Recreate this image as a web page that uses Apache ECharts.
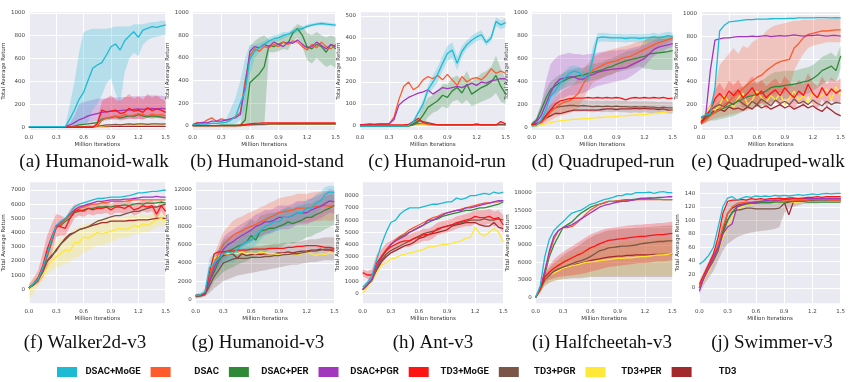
<!DOCTYPE html>
<html><head><meta charset="utf-8">
<script src="https://cdn.jsdelivr.net/npm/echarts@6/dist/echarts.min.js"></script>
<style>html,body{margin:0;padding:0;background:#fff}#c{width:865px;height:382px}</style>
</head><body><div id="c"></div>
<script>
// ---------- shared ----------
const iterations = [0,0.05,0.1,0.15,0.2,0.25,0.3,0.35,0.4,0.45,0.5,0.55,0.6,0.65,0.7,0.75,0.8,0.85,0.9,0.95,1.0,1.05,1.1,1.15,1.2,1.25,1.3,1.35,1.4,1.45,1.5];
const xTicks = [0,0.3,0.6,0.9,1.2,1.5];
const methods = ['DSAC+MoGE','DSAC','DSAC+PER','DSAC+PGR','TD3+MoGE','TD3+PGR','TD3+PER','TD3'];
const panelTitles = ['(a) Humanoid-walk','(b) Humanoid-stand','(c) Humanoid-run','(d) Quadruped-run','(e) Quadruped-walk','(f) Walker2d-v3','(g) Humanoid-v3','(h) Ant-v3','(i) Halfcheetah-v3','(j) Swimmer-v3'];
const yTicksWalk = [0,200,400,600,800,1000];
const yTicksStand = [0,200,400,600,800,1000];
const yTicksRun = [0,100,200,300,400,500];
const yTicksQrun = [0,200,400,600,800,1000];
const yTicksQwalk = [0,200,400,600,800,1000];
const yTicksWalker = [0,1000,2000,3000,4000,5000,6000,7000];
const yTicksHum = [0,2000,4000,6000,8000,10000,12000];
const yTicksAnt = [0,1000,2000,3000,4000,5000,6000,7000,8000];
const yTicksCheetah = [0,3000,6000,9000,12000,15000,18000];
const yTicksSwim = [0,20,40,60,80,100,120,140];

// ---------- (a) Humanoid-walk ----------
const walkMoGE = [5,5,5,5,5,5,5,5,5,73,151,244,305,413,515,544,564,631,703,727,674,756,797,834,785,849,863,878,872,884,895];
const walkMoGELo = [0,0,0,0,0,0,0,0,0,0,0,0,0,50,150,200,280,380,430,300,200,480,600,650,620,720,760,780,790,800,810];
const walkMoGEHi = [10,10,10,10,10,10,10,10,10,200,400,650,830,850,860,860,860,860,870,880,880,880,880,900,900,900,910,920,920,930,930];
const walkDSAC = [0,0,0,0,0,0,0,0,0,0,0,0,0,0,0,10,60,80,90,100,95,110,100,105,120,110,100,115,105,110,100];
const walkPER = [0,0,0,0,0,0,0,0,0,0,10,20,25,30,35,40,70,80,85,95,80,90,100,95,110,100,90,100,95,90,80];
const walkPGR = [5,5,5,5,5,5,5,5,5,20,40,65,80,100,110,120,130,135,140,140,145,150,150,155,160,155,160,165,160,165,160];
const walkPGRLo = [5,5,5,5,5,5,5,5,5,5,0,20,30,40,50,55,60,60,65,65,70,70,70,75,75,75,80,80,80,80,80];
const walkPGRHi = [5,5,5,5,5,5,5,5,5,40,100,200,220,230,240,250,250,255,260,260,260,265,265,270,270,270,275,280,275,275,270];
const walkTD3MoGE = [0,0,0,0,0,0,0,0,0,0,0,0,0,0,0,30,150,135,140,150,120,130,165,140,150,130,170,145,160,150,130];
const walkTD3MoGELo = [0,0,0,0,0,0,0,0,0,0,0,0,0,0,0,0,60,70,70,75,60,65,80,70,75,65,85,75,80,75,65];
const walkTD3MoGEHi = [0,0,0,0,0,0,0,0,0,0,0,0,0,0,0,60,230,250,280,240,230,260,290,250,270,240,290,260,280,250,230];
const walkTD3PGR = [0,0,0,0,0,0,0,0,0,0,2,5,5,8,8,10,15,20,20,25,20,25,30,25,30,30,25,30,30,28,30];
const walkTD3PER = [0,0,0,0,0,0,0,0,0,0,0,0,0,0,0,2,10,15,15,20,20,22,25,25,25,28,28,30,30,30,30];
const walkTD3 = [5,5,5,5,5,5,5,5,5,5,5,5,5,5,5,5,5,5,8,8,8,8,8,8,8,8,8,8,8,8,8];

// ---------- (b) Humanoid-stand ----------
const standMoGE = [10,12,15,15,20,20,25,30,50,80,200,310,590,660,690,720,750,770,780,800,810,830,850,860,880,890,900,905,900,895,890];
const standMoGELo = [5,5,8,8,10,10,12,15,10,20,50,150,450,600,650,690,720,740,750,770,790,810,830,845,865,875,885,890,885,880,875];
const standMoGEHi = [15,20,22,22,30,30,40,60,150,250,400,600,720,720,730,750,780,800,810,830,830,850,870,875,895,905,915,920,915,910,905];
const standDSAC = [10,30,20,50,70,40,60,50,60,80,120,400,620,680,660,700,690,720,700,740,720,750,740,700,670,720,690,740,700,680,720];
const standPER = [0,0,0,0,0,0,5,5,5,5,5,50,380,420,460,520,710,700,720,740,730,820,860,800,700,680,720,700,650,720,680];
const standPERLo = [0,0,0,0,0,0,0,0,0,0,0,0,0,0,0,0,650,650,660,680,670,750,780,700,580,550,600,560,520,540,510];
const standPERHi = [0,0,0,0,0,0,10,10,10,10,10,300,700,750,780,800,760,760,780,800,800,860,900,880,820,800,830,800,780,800,780];
const standPGR = [10,20,30,25,40,40,40,50,60,70,100,350,660,700,690,720,700,740,720,700,740,730,760,720,690,700,740,710,680,720,700];
const standTD3MoGE = [0,0,0,0,0,0,0,0,0,0,5,10,15,20,22,25,25,25,25,25,25,25,25,25,25,25,25,25,25,25,25];
const standTD3PGR = [0,0,0,0,0,0,0,0,0,0,2,5,8,10,12,12,15,15,15,15,15,15,15,15,15,15,15,15,15,15,15];
const standTD3PER = [0,0,0,0,0,0,0,0,0,0,0,2,5,5,8,8,10,10,10,10,10,10,12,12,12,12,12,12,12,12,12];
const standTD3 = [0,0,0,0,0,0,0,0,0,0,2,5,8,10,10,10,12,12,12,15,15,15,15,15,15,15,15,15,15,15,15];

// ---------- (c) Humanoid-run ----------
const runMoGE = [0,0,0,0,0,0,0,0,0,0,2,20,60,100,165,200,235,285,330,345,285,340,370,390,405,415,380,400,475,460,470];
const runMoGELo = [0,0,0,0,0,0,0,0,0,0,0,10,45,80,145,170,200,250,295,310,255,315,350,370,385,395,365,385,455,440,450];
const runMoGEHi = [0,0,0,0,0,0,0,0,0,0,5,30,75,120,185,230,270,320,365,380,315,365,390,410,425,435,395,415,495,480,490];
const runDSAC = [5,5,8,8,10,10,10,40,120,180,200,165,180,210,225,215,230,210,235,210,185,225,200,215,220,210,230,260,240,250,240];
const runPER = [0,0,0,0,0,0,0,0,0,0,0,5,20,50,85,100,115,140,130,160,175,150,190,145,160,175,185,200,230,180,145];
const runPERLo = [0,0,0,0,0,0,0,0,0,0,0,0,0,10,40,60,70,90,80,110,120,100,120,90,100,110,120,130,150,110,100];
const runPERHi = [0,0,0,0,0,0,0,0,0,0,0,10,40,90,130,140,160,190,190,220,230,210,250,200,220,240,250,270,320,260,210];
const runPGR = [5,8,10,8,10,10,10,30,95,115,130,140,150,155,165,145,160,175,170,175,180,175,185,195,185,200,195,205,210,215,215];
const runTD3MoGE = [5,5,5,5,5,5,5,5,5,5,8,20,35,15,10,8,5,5,5,5,5,5,5,5,10,5,5,5,5,20,10];
const runTD3PGR = [0,0,0,0,0,0,0,0,0,0,5,10,25,20,15,10,5,5,5,5,5,5,5,5,5,5,5,5,5,8,5];
const runTD3PER = [0,0,0,0,0,0,0,0,0,0,2,3,5,5,5,5,5,5,5,5,5,5,5,5,5,5,5,5,5,5,5];
const runTD3 = [2,2,2,2,2,2,2,2,2,2,5,8,10,8,6,5,5,5,5,5,5,5,5,5,5,5,5,5,5,5,5];

// ---------- (d) Quadruped-run ----------
const qrunMoGE = [10,15,60,150,270,320,380,430,470,490,480,440,430,600,780,790,785,780,780,780,775,780,780,775,780,780,790,780,790,800,790];
const qrunMoGELo = [0,5,30,100,200,260,320,370,410,440,430,400,390,500,740,750,750,745,745,745,740,745,745,740,745,745,755,745,755,765,755];
const qrunMoGEHi = [20,30,100,200,340,380,440,490,530,540,530,490,480,700,820,825,820,815,815,815,810,815,815,810,815,815,825,815,825,835,825];
const qrunDSAC = [20,30,40,80,130,170,200,220,230,260,300,380,440,500,520,540,560,570,580,600,610,620,640,660,680,700,720,740,750,765,780];
const qrunDSACLo = [10,20,20,40,60,80,100,110,120,140,170,250,320,390,410,430,450,460,480,500,510,520,540,570,600,640,670,700,720,740,760];
const qrunDSACHi = [30,40,60,120,200,260,300,330,350,380,430,510,560,610,630,650,670,680,690,700,710,720,740,750,760,770,780,790,790,800,810];
const qrunPER = [30,60,150,250,330,360,390,410,430,440,450,455,470,480,490,500,520,530,550,565,580,590,600,610,620,640,645,650,655,660,670];
const qrunPERLo = [20,40,100,180,260,290,320,340,360,370,380,390,400,410,420,430,450,460,480,490,500,510,520,530,510,510,500,500,500,500,500];
const qrunPERHi = [40,80,200,320,400,430,460,480,500,510,520,520,540,550,560,570,590,600,620,640,660,670,680,690,760,790,800,800,800,800,800];
const qrunPGR = [20,50,100,200,300,380,420,430,440,440,420,420,450,460,480,490,500,505,510,515,520,540,560,580,600,640,680,700,710,720,730];
const qrunPGRLo = [10,20,40,100,150,200,250,260,280,280,290,300,320,340,360,370,380,390,400,410,420,440,470,500,530,580,620,650,670,690,700];
const qrunPGRHi = [30,80,200,400,550,600,630,640,650,640,640,630,640,640,650,660,660,670,670,680,680,690,700,710,720,740,760,770,770,770,770];
const qrunTD3MoGE = [20,30,50,100,150,200,230,240,250,255,255,255,260,255,260,255,260,255,260,255,240,255,260,255,260,255,260,255,260,250,255];
const qrunTD3PGR = [20,30,50,100,150,170,180,185,190,190,185,190,185,180,185,180,185,180,185,180,180,175,180,175,180,175,175,170,175,170,170];
const qrunTD3PGRLo = [10,20,30,60,100,120,130,135,140,140,135,140,135,130,135,130,135,130,135,130,130,125,130,125,130,125,125,120,125,120,120];
const qrunTD3PGRHi = [30,40,70,140,200,220,230,235,240,240,235,240,235,230,235,230,235,230,235,230,230,225,230,225,230,225,225,220,225,220,220];
const qrunTD3PER = [0,10,20,30,40,50,55,60,65,70,70,75,75,80,85,85,90,90,95,100,100,105,105,110,110,115,120,125,130,135,140];
const qrunTD3 = [20,25,50,80,100,120,120,130,140,150,150,150,150,150,150,155,160,160,155,160,160,160,165,160,165,160,160,155,160,150,150];

// ---------- (e) Quadruped-walk ----------
const qwalkMoGE = [90,110,120,350,850,900,930,935,940,945,950,950,955,955,955,958,960,960,960,962,962,965,965,965,965,968,968,968,965,968,965];
const qwalkDSAC = [30,60,100,130,160,200,230,270,300,340,380,410,440,460,500,530,560,580,590,600,700,740,790,820,830,840,850,850,855,860,860];
const qwalkDSACLo = [20,40,60,80,90,100,110,120,130,140,150,170,190,210,250,270,290,300,300,350,500,580,650,700,720,730,740,750,750,750,750];
const qwalkDSACHi = [60,100,200,350,550,600,650,700,650,720,700,750,780,800,850,880,900,910,920,930,940,940,950,950,950,955,955,960,960,960,960];
const qwalkPER = [50,80,110,130,150,170,190,210,230,250,270,280,290,300,320,350,360,360,370,375,380,390,400,410,430,460,500,520,540,500,630];
const qwalkPERLo = [20,40,60,60,70,80,90,100,120,140,160,170,180,190,200,220,230,240,250,260,270,280,290,300,320,350,380,400,420,400,520];
const qwalkPERHi = [80,120,160,200,230,260,290,320,340,360,380,390,400,410,440,470,490,490,500,500,500,510,520,530,550,580,620,640,660,620,720];
const qwalkPGR = [80,100,500,770,780,790,790,795,800,800,800,805,800,805,810,800,805,810,805,810,815,810,805,810,810,815,810,805,810,810,805];
const qwalkTD3MoGE = [40,100,150,250,300,250,320,280,330,260,300,350,280,320,260,300,330,280,350,300,260,320,280,380,300,260,350,280,340,300,330];
const qwalkTD3MoGELo = [20,60,100,170,210,170,230,190,240,170,200,250,180,220,160,200,230,180,250,200,160,220,180,280,200,160,250,180,240,200,230];
const qwalkTD3MoGEHi = [60,140,200,330,390,330,410,370,420,350,400,450,380,420,360,400,430,380,450,400,360,420,380,480,400,360,450,380,440,400,430];
const qwalkTD3PGR = [50,100,150,180,200,180,220,200,240,210,180,230,200,250,220,190,240,210,230,200,250,210,230,200,240,210,190,230,200,220,210];
const qwalkTD3PER = [60,120,180,150,200,280,220,180,260,300,200,240,320,260,220,280,240,300,200,260,320,240,280,220,300,260,280,340,240,360,280];
const qwalkTD3 = [40,80,120,150,160,140,180,160,170,150,180,160,200,170,190,160,180,200,170,190,160,180,200,170,190,160,140,180,150,120,100];

// ---------- (f) Walker2d-v3 ----------
const walkerMoGE = [100,400,700,1500,2500,3600,4500,4800,5000,5400,5800,6000,6100,6200,6300,6400,6400,6450,6500,6500,6500,6550,6600,6700,6800,6800,6850,6900,6900,6950,7000];
const walkerDSAC = [100,350,650,1400,2400,3400,4300,4600,4900,5200,5500,5700,5800,5900,6000,6000,6100,6100,6200,6200,6200,6200,6250,6300,6300,6300,6300,6300,6300,6300,6300];
const walkerPER = [100,300,600,1300,2300,3300,4400,4500,4800,5000,5400,5500,5600,5700,5700,5800,5800,5850,5800,5900,5900,5950,5900,6000,6050,6000,6100,6050,6100,6150,6100];
const walkerPGR = [100,350,650,1400,2500,3500,4400,4700,5000,5300,5600,5800,5900,6000,6100,6200,6200,6250,6300,6300,6300,6350,6350,6400,6450,6500,6500,6500,6550,6500,6500];
const walkerTD3MoGE = [100,400,800,1600,2800,3700,4500,4400,4300,5000,5500,5600,5500,5700,5600,5700,5700,5800,5600,5800,5800,5700,5900,5600,5700,5900,5800,5900,5300,5900,5500];
const walkerTD3MoGELo = [0,200,400,800,1500,2500,3700,3800,3800,4400,5000,5200,5100,5300,5200,5300,5300,5400,5200,5400,5400,5300,5500,5200,5300,5500,5400,5500,4900,5500,5100];
const walkerTD3MoGEHi = [300,800,1300,2500,3800,4600,5300,5200,5000,5600,6000,6000,5900,6100,6000,6100,6100,6200,6000,6200,6200,6100,6300,6000,6100,6300,6200,6300,5800,6300,5900];
const walkerTD3PGR = [100,300,600,1200,2000,2400,2700,3200,3500,3800,4000,4200,4300,4400,4600,4800,4900,5000,5100,5200,5200,5300,5400,5500,5500,5600,5700,5800,5800,5900,6000];
const walkerTD3PER = [0,200,600,1000,1500,2000,2300,2500,2800,2700,3300,3300,3700,3600,3800,4000,3900,4000,4100,4200,4300,4200,4300,4500,4400,4600,4500,4700,4900,5000,4800];
const walkerTD3PERLo = [-800,-300,200,600,1000,1300,1500,1700,1800,1900,2200,2300,2600,2700,2900,3100,3100,3200,3300,3500,3600,3600,3700,3900,3900,4000,4000,4200,4400,4500,4400];
const walkerTD3PERHi = [500,700,1000,1500,2200,2800,3300,3600,3800,3900,4300,4400,4600,4600,4700,4900,4900,5000,5000,5100,5100,5100,5200,5200,5200,5300,5200,5300,5400,5400,5300];
const walkerTD3 = [100,300,600,1200,2000,2300,2800,3200,3600,3900,4000,4200,4300,4400,4500,4600,4700,4700,4800,4800,4800,4800,4850,4850,4900,4900,4900,4950,5000,5000,5000];

// ---------- (g) Humanoid-v3 ----------
const humMoGE = [400,500,800,3500,4000,4500,5000,5200,5000,5500,6000,6300,6500,7000,7500,8000,8200,8500,8500,9000,9000,9200,9500,9500,10000,10000,10500,10800,11500,11800,11700];
const humMoGELo = [200,300,500,2500,3000,3500,3800,4000,4000,4500,5000,5300,5500,6000,6500,7000,7200,7500,7500,8000,8000,8200,8500,8500,9000,9000,9500,9800,10500,10800,10700];
const humMoGEHi = [600,700,1200,4500,5000,5500,6200,6400,6200,6500,7000,7300,7500,8000,8500,9000,9200,9500,9500,10000,10000,10200,10500,10500,11000,11000,11500,11800,12300,12500,12400];
const humDSAC = [400,450,700,2500,4000,5000,6000,6500,7000,7300,7500,7800,8000,8200,8500,8700,9000,9200,9500,9600,9700,9800,10000,10000,10000,10100,10200,10200,10300,10200,10300];
const humDSACLo = [300,350,500,1800,3000,3800,4600,5000,5400,5700,5900,6200,6400,6600,6900,7100,7400,7600,7900,8000,8100,8200,8400,8400,8400,8500,8600,8600,8700,8600,8700];
const humDSACHi = [500,550,900,3200,5000,6200,7400,8000,8600,8900,9100,9400,9600,9800,10100,10300,10600,10800,11100,11200,11300,11400,11600,11600,11600,11700,11800,11800,11900,11800,11900];
const humPER = [400,450,600,2000,3000,4200,5000,5300,5500,5800,6000,6300,7000,6500,7500,7600,7800,7800,8000,8200,8500,8300,8500,8700,9000,9000,9300,9500,9800,10000,10300];
const humPERLo = [200,300,400,1000,2000,2500,3000,3300,3500,3800,4000,4200,4500,4500,5000,5200,5400,5500,5700,5900,6200,6100,6300,6500,6800,6900,7200,7400,7700,7900,8200];
const humPERHi = [600,600,800,3000,4200,5500,6500,6800,7000,7400,7800,8200,8800,8500,9200,9300,9500,9500,9700,9900,10200,10000,10200,10300,10500,10500,10800,11000,11300,11500,11500];
const humPGR = [400,450,600,2000,3500,4500,5500,6000,6300,6700,7000,7300,7600,8000,8200,8500,8500,8700,9000,9000,9000,9200,9500,9500,9500,9800,10000,10200,10500,10800,10700];
const humPGRLo = [300,350,450,1400,2600,3400,4200,4700,5000,5400,5700,6000,6300,6700,6900,7200,7200,7400,7700,7700,7700,7900,8200,8200,8200,8500,8700,8900,9200,9500,9400];
const humPGRHi = [500,550,750,2600,4400,5600,6800,7300,7600,8000,8300,8600,8900,9300,9500,9800,9800,10000,10300,10300,10300,10500,10800,10800,10800,11100,11300,11500,11800,12100,12000];
const humTD3MoGE = [400,450,600,3000,5000,5200,5200,5300,5300,5400,5400,5400,5500,5500,5500,5500,5600,5600,5600,5600,5700,5700,5800,5800,5900,5900,5900,5800,5700,5700,5600];
const humTD3PGR = [300,350,500,1500,2500,3200,4000,4200,4400,4500,4500,4500,4600,4600,4600,4700,4700,4800,4800,4900,4900,5000,5000,5100,5200,5300,5300,5400,5500,5500,5500];
const humTD3PGRLo = [100,150,300,700,1200,1600,2000,2200,2400,2600,2700,2800,2900,3000,3100,3200,3300,3400,3500,3600,3700,3800,3800,3900,4000,4100,4100,4200,4300,4300,4300];
const humTD3PGRHi = [500,550,700,2200,3600,4500,5200,5300,5400,5500,5600,5700,5700,5800,5800,5900,6000,6100,6100,6200,6200,6300,6300,6400,6500,6600,6600,6700,6800,6800,6800];
const humTD3PER = [400,450,700,3000,4500,4800,5000,5000,5100,5000,5200,5000,5100,5000,5200,5100,5000,5000,4900,5000,4800,5000,4900,5000,5200,5000,4800,5000,4900,5100,5000];
const humTD3 = [400,450,600,2500,4000,4500,4800,5000,5000,4500,5000,4800,4900,5000,4900,5000,5000,5000,5100,5100,5200,5100,5200,5300,5300,5400,5400,5500,5400,5400,5300];

// ---------- (h) Ant-v3 ----------
const antMoGE = [500,900,1500,2800,4000,5000,5800,6000,6500,6800,7000,7000,7000,7100,7200,7300,7300,7400,7500,7500,7800,7700,7800,8000,8000,8100,8200,8100,8300,8200,8300];
const antDSAC = [300,700,1200,2200,3000,3600,4000,4400,4700,4900,5200,5400,5600,5800,6000,6200,6300,6500,6600,6700,6800,6900,7000,7100,7200,7300,7400,7400,7500,7500,7600];
const antPER = [300,700,1100,2100,2900,3500,4000,4300,4600,4800,5000,5200,5400,5600,5800,6000,6100,6300,6400,6500,6600,6700,6800,6800,6900,7000,7000,7100,7200,7300,7500];
const antPGR = [300,700,1200,2200,3000,3500,4000,4300,4500,4700,5000,5200,5400,5600,6000,6000,6200,6400,6600,6700,6800,6800,7000,7000,7100,7200,7300,7400,7500,7600,7600];
const antTD3MoGE = [1700,1500,1500,2500,3000,3500,3800,4000,4200,4300,4300,4500,4600,4800,4800,5000,5300,5400,5500,5600,5800,5900,6000,6100,6300,6200,6200,6300,6100,6200,5600];
const antTD3MoGELo = [1400,1200,1000,1800,2400,2900,3300,3500,3700,3800,3800,4000,4100,4300,4300,4500,4800,4900,5000,5100,5300,5400,5500,5500,5700,5600,5600,5700,5500,5500,4900];
const antTD3MoGEHi = [2000,1800,2000,3200,3600,4100,4300,4500,4700,4800,4800,5000,5100,5300,5300,5500,5800,5900,6000,6100,6300,6400,6500,6600,6800,6800,6800,6900,6700,6800,6400];
const antTD3PGR = [300,700,1100,2000,2700,3200,3500,3700,3900,4100,4300,4500,4700,4900,5000,5100,5200,5400,5500,5600,5700,5800,5900,6000,6000,6000,6100,6000,6000,6100,6000];
const antTD3PER = [0,500,1000,1700,2300,2500,2800,2900,3100,3200,3300,3400,3500,3600,3800,3800,3900,4000,4000,4100,4200,4300,4500,4600,5400,4900,4700,5000,5300,5000,4200];
const antTD3 = [300,600,1000,1900,2600,3000,3300,3500,3700,3900,4000,4200,4500,4600,4800,4900,5000,5100,5200,5500,5600,5700,5800,5800,5800,5600,5500,5500,5800,5400,5300];

// ---------- (i) Halfcheetah-v3 ----------
const cheetahMoGE = [0,2000,7000,10000,11500,12300,13000,13800,14500,14800,15000,15500,16000,16200,16500,16800,17000,17200,17500,17500,17800,17700,18000,18000,18000,18100,17900,18100,18200,18000,18000];
const cheetahDSAC = [0,1500,4500,7500,10000,11500,12000,12000,12200,12800,13500,14300,15000,15500,16000,16300,16500,16500,16600,16600,16700,16700,16800,16800,16800,16800,16800,16800,16800,16800,16800];
const cheetahPER = [0,1500,4000,7000,9000,10500,12000,12500,13000,13800,14500,15000,15500,15800,16000,16200,16500,16500,16600,16700,16800,16800,16900,17000,17000,17000,16900,16900,16800,16800,16800];
const cheetahPGR = [0,1500,4500,8000,10500,11500,12000,12200,12500,13000,13500,14000,14500,15000,15500,15800,16000,16200,16400,16500,16500,16700,16800,17000,17000,17100,17100,17200,17200,17300,17300];
const cheetahTD3MoGE = [0,1500,3500,4300,5000,5500,6000,6400,6800,7200,7500,8000,8500,8800,9200,9500,9800,9900,10000,10100,10200,10300,10400,10500,10500,10600,10700,10800,10800,10900,11000];
const cheetahTD3MoGELo = [0,1000,2500,3000,3300,3500,3600,3700,3800,3900,4000,4200,4400,4600,4800,5000,5200,5300,5400,5500,5600,5700,5800,5900,5900,6000,6100,6200,6200,6300,6400];
const cheetahTD3MoGEHi = [0,2000,4500,5500,6500,7200,7800,8300,8800,9300,9800,10300,10800,11100,11400,11700,11900,12000,12100,12200,12300,12400,12500,12500,12600,12600,12700,12800,12800,12900,13000];
const cheetahTD3PGR = [0,1300,3000,3800,4500,4900,5200,5500,5800,6100,6300,6600,7000,7500,8000,8200,8500,8600,8700,8800,8800,8900,9000,9200,9300,9400,9500,9600,9600,9700,9700];
const cheetahTD3PGRLo = [0,800,2000,2500,2800,3000,3100,3200,3300,3300,3300,3400,3500,3500,3500,3500,3500,3500,3500,3500,3500,3500,3500,3500,3500,3500,3500,3500,3500,3500,3500];
const cheetahTD3PGRHi = [0,1800,4000,5000,6000,6500,7200,7800,8200,8700,9200,9800,10300,10700,11000,11300,11500,11600,11700,11800,11900,11900,12000,12000,12100,12100,12200,12200,12300,12300,12400];
const cheetahTD3PER = [0,1200,3000,3800,4200,4600,5000,5200,5400,5600,5800,6000,6100,6200,6300,6400,6500,6600,6700,6700,6800,6800,6900,7000,7000,7100,7200,7300,7300,7400,7500];
const cheetahTD3PERLo = [0,800,2000,2500,2800,3000,3200,3300,3400,3500,3500,3600,3600,3600,3700,3700,3700,3700,3700,3800,3800,3800,3800,3800,3800,3800,3800,3800,3800,3800,3800];
const cheetahTD3PERHi = [0,1600,4000,5000,5600,6200,6700,7100,7500,7800,8100,8400,8600,8800,9000,9100,9200,9300,9400,9500,9600,9700,9800,9900,10000,10000,10100,10200,10200,10300,10300];
const cheetahTD3 = [0,1200,3000,3800,4300,4700,5000,5200,5400,5700,5900,6100,6300,6500,6600,6800,6900,7000,7100,7100,7200,7200,7300,7300,7300,7300,7400,7400,7400,7400,7400];

// ---------- (j) Swimmer-v3 ----------
const swimMoGE = [35,40,48,60,90,120,133,135,130,133,135,134,136,135,136,135,137,136,137,136,137,138,137,138,139,138,139,140,139,140,140];
const swimDSAC = [0,15,30,45,65,90,110,120,125,126,127,127,128,128,128,128,129,129,130,130,130,130,130,130,131,131,131,131,130,130,130];
const swimPER = [0,15,30,45,60,85,100,112,120,122,124,125,125,126,126,126,127,127,127,128,128,128,128,127,127,127,127,127,127,127,127];
const swimPGR = [-5,15,30,45,60,80,90,95,120,123,125,126,127,128,129,130,130,130,131,131,132,132,132,132,132,132,132,132,132,132,132];
const swimTD3MoGE = [5,20,35,50,75,110,128,130,130,131,130,132,131,132,131,132,132,133,132,133,133,132,133,134,134,135,134,135,135,135,135];
const swimTD3PGR = [0,15,28,40,55,80,100,112,115,116,118,118,117,117,117,117,117,118,125,127,128,128,129,129,130,130,130,130,130,130,130];
const swimTD3PGRLo = [-10,5,15,25,40,55,65,70,75,78,80,82,83,84,85,86,87,90,110,118,120,122,124,125,125,125,126,126,126,126,126];
const swimTD3PGRHi = [10,25,40,55,70,105,125,130,130,131,131,131,131,131,131,131,131,132,133,134,134,134,134,134,134,134,134,135,135,135,135];
const swimTD3PER = [0,12,25,40,55,75,90,105,115,120,123,124,125,125,126,126,126,127,127,127,127,127,128,128,128,128,128,128,128,128,128];
const swimTD3 = [0,15,30,45,60,85,110,118,122,124,125,126,126,127,127,127,127,127,127,108,128,129,129,130,130,131,131,132,132,132,132];

// ---------- styling / layout ----------
const methodColors = {'DSAC+MoGE':'#1DBBD3','DSAC':'#FF5A2B','DSAC+PER':'#2E8A37','DSAC+PGR':'#A236BD','TD3+MoGE':'#FF1414','TD3+PGR':'#7B5548','TD3+PER':'#FFE838','TD3':'#A4292C'};
const drawOrder = ['TD3','TD3+PER','TD3+PGR','DSAC+PER','DSAC','DSAC+PGR','TD3+MoGE','DSAC+MoGE'];

const panels = [
  {grid:{left:25,top:12.3,width:140.7,height:117.7}, yMin:-24, yMax:1004, ticks:yTicksWalk, gap:15, tx:89, ty:148,
   lines:{'DSAC+MoGE':walkMoGE,'DSAC':walkDSAC,'DSAC+PER':walkPER,'DSAC+PGR':walkPGR,'TD3+MoGE':walkTD3MoGE,'TD3+PGR':walkTD3PGR,'TD3+PER':walkTD3PER,'TD3':walkTD3},
   bands:{'DSAC+MoGE':[walkMoGELo,walkMoGEHi],'DSAC+PGR':[walkPGRLo,walkPGRHi],'TD3+MoGE':[walkTD3MoGELo,walkTD3MoGEHi]}},
  {grid:{left:192.7,top:12.3,width:143,height:117.7}, yMin:-38, yMax:1004, ticks:yTicksStand, gap:13, tx:262, ty:148,
   lines:{'DSAC+MoGE':standMoGE,'DSAC':standDSAC,'DSAC+PER':standPER,'DSAC+PGR':standPGR,'TD3+MoGE':standTD3MoGE,'TD3+PGR':standTD3PGR,'TD3+PER':standTD3PER,'TD3':standTD3},
   bands:{'DSAC+MoGE':[standMoGELo,standMoGEHi],'DSAC+PER':[standPERLo,standPERHi]}},
  {grid:{left:360,top:12.3,width:145.7,height:117.7}, yMin:-18, yMax:517, ticks:yTicksRun, gap:10, tx:432, ty:148,
   lines:{'DSAC+MoGE':runMoGE,'DSAC':runDSAC,'DSAC+PER':runPER,'DSAC+PGR':runPGR,'TD3+MoGE':runTD3MoGE,'TD3+PGR':runTD3PGR,'TD3+PER':runTD3PER,'TD3':runTD3},
   bands:{'DSAC+MoGE':[runMoGELo,runMoGEHi],'DSAC+PER':[runPERLo,runPERHi]}},
  {grid:{left:531.7,top:12.3,width:141,height:117.7}, yMin:-24, yMax:1004, ticks:yTicksQrun, gap:13, tx:598, ty:148,
   lines:{'DSAC+MoGE':qrunMoGE,'DSAC':qrunDSAC,'DSAC+PER':qrunPER,'DSAC+PGR':qrunPGR,'TD3+MoGE':qrunTD3MoGE,'TD3+PGR':qrunTD3PGR,'TD3+PER':qrunTD3PER,'TD3':qrunTD3},
   bands:{'DSAC+MoGE':[qrunMoGELo,qrunMoGEHi],'DSAC':[qrunDSACLo,qrunDSACHi],'DSAC+PER':[qrunPERLo,qrunPERHi],'DSAC+PGR':[qrunPGRLo,qrunPGRHi],'TD3+PGR':[qrunTD3PGRLo,qrunTD3PGRHi]}},
  {grid:{left:701,top:12.3,width:139.7,height:117.7}, yMin:-24, yMax:1015, ticks:yTicksQwalk, gap:13, tx:763, ty:148,
   lines:{'DSAC+MoGE':qwalkMoGE,'DSAC':qwalkDSAC,'DSAC+PER':qwalkPER,'DSAC+PGR':qwalkPGR,'TD3+MoGE':qwalkTD3MoGE,'TD3+PGR':qwalkTD3PGR,'TD3+PER':qwalkTD3PER,'TD3':qwalkTD3},
   bands:{'DSAC':[qwalkDSACLo,qwalkDSACHi],'DSAC+PER':[qwalkPERLo,qwalkPERHi],'TD3+MoGE':[qwalkTD3MoGELo,qwalkTD3MoGEHi]}},
  {grid:{left:23.3,top:182.3,width:142.4,height:121}, yMin:-987, yMax:7543, ticks:yTicksWalker, gap:13, tx:80, ty:329,
   lines:{'DSAC+MoGE':walkerMoGE,'DSAC':walkerDSAC,'DSAC+PER':walkerPER,'DSAC+PGR':walkerPGR,'TD3+MoGE':walkerTD3MoGE,'TD3+PGR':walkerTD3PGR,'TD3+PER':walkerTD3PER,'TD3':walkerTD3},
   bands:{'TD3+PER':[walkerTD3PERLo,walkerTD3PERHi],'TD3+MoGE':[walkerTD3MoGELo,walkerTD3MoGEHi]}},
  {grid:{left:195.7,top:182.3,width:138.6,height:121}, yMin:-439, yMax:12845, ticks:yTicksHum, gap:15, tx:253, ty:329,
   lines:{'DSAC+MoGE':humMoGE,'DSAC':humDSAC,'DSAC+PER':humPER,'DSAC+PGR':humPGR,'TD3+MoGE':humTD3MoGE,'TD3+PGR':humTD3PGR,'TD3+PER':humTD3PER,'TD3':humTD3},
   bands:{'DSAC+MoGE':[humMoGELo,humMoGEHi],'DSAC':[humDSACLo,humDSACHi],'DSAC+PER':[humPERLo,humPERHi],'DSAC+PGR':[humPGRLo,humPGRHi],'TD3+PGR':[humTD3PGRLo,humTD3PGRHi]}},
  {grid:{left:362.7,top:182.3,width:140.6,height:121}, yMin:-820, yMax:9098, ticks:yTicksAnt, gap:13, tx:428, ty:329,
   lines:{'DSAC+MoGE':antMoGE,'DSAC':antDSAC,'DSAC+PER':antPER,'DSAC+PGR':antPGR,'TD3+MoGE':antTD3MoGE,'TD3+PGR':antTD3PGR,'TD3+PER':antTD3PER,'TD3':antTD3},
   bands:{'TD3+MoGE':[antTD3MoGELo,antTD3MoGEHi]}},
  {grid:{left:535.7,top:182.3,width:136.6,height:121}, yMin:-1032, yMax:19790, ticks:yTicksCheetah, gap:16, tx:597, ty:329,
   lines:{'DSAC+MoGE':cheetahMoGE,'DSAC':cheetahDSAC,'DSAC+PER':cheetahPER,'DSAC+PGR':cheetahPGR,'TD3+MoGE':cheetahTD3MoGE,'TD3+PGR':cheetahTD3PGR,'TD3+PER':cheetahTD3PER,'TD3':cheetahTD3},
   bands:{'TD3+MoGE':[cheetahTD3MoGELo,cheetahTD3MoGEHi],'TD3+PGR':[cheetahTD3PGRLo,cheetahTD3PGRHi],'TD3+PER':[cheetahTD3PERLo,cheetahTD3PERHi]}},
  {grid:{left:699.3,top:182.3,width:141.4,height:121}, yMin:-23, yMax:156.3, ticks:yTicksSwim, gap:12, tx:767, ty:329,
   lines:{'DSAC+MoGE':swimMoGE,'DSAC':swimDSAC,'DSAC+PER':swimPER,'DSAC+PGR':swimPGR,'TD3+MoGE':swimTD3MoGE,'TD3+PGR':swimTD3PGR,'TD3+PER':swimTD3PER,'TD3':swimTD3},
   bands:{'TD3+PGR':[swimTD3PGRLo,swimTD3PGRHi]}}
];

const grids = [], xAxes = [], yAxes = [], series = [], titles = [];
panels.forEach((p, pi) => {
  grids.push(Object.assign({show:true, backgroundColor:'#EAEAF2', borderWidth:0}, p.grid));
  xAxes.push({type:'value', gridIndex:pi, min:0, max:1.5, interval:0.3,
    name:'Million Iterations', nameLocation:'middle', nameGap:11,
    nameTextStyle:{fontSize:5.5, color:'#333', fontFamily:'DejaVu Sans'},
    axisLine:{show:false}, axisTick:{show:false},
    axisLabel:{fontSize:5.5, color:'#444', margin:5, fontFamily:'DejaVu Sans', formatter:v=>v.toFixed(1)},
    splitLine:{show:true, lineStyle:{color:'#ffffff', width:1}}});
  yAxes.push({type:'value', gridIndex:pi, min:p.yMin, max:p.yMax,
    name:'Total Average Return', nameLocation:'middle', nameGap:p.gap,
    nameTextStyle:{fontSize:5.5, color:'#333', fontFamily:'DejaVu Sans'},
    axisLine:{show:false}, axisTick:{show:false, customValues:p.ticks},
    axisLabel:{fontSize:5.5, color:'#444', margin:4, fontFamily:'DejaVu Sans', customValues:p.ticks, formatter:v=>String(v)},
    splitLine:{show:true, lineStyle:{color:'#ffffff', width:1}}});
  titles.push({text:panelTitles[pi], left:p.tx, top:p.ty, textAlign:'center',
    textStyle:{fontFamily:'Liberation Serif', fontSize:19, fontWeight:'normal', color:'#111'}});
  drawOrder.forEach(m => {
    const b = p.bands[m];
    if (!b) return;
    const lo = b[0], hi = b[1], col = methodColors[m];
    series.push({type:'custom', xAxisIndex:pi, yAxisIndex:pi, z:1, silent:true,
      data: iterations.map((x,i)=>[x, lo[i], hi[i]]),
      encode:{x:0, y:[1,2]},
      renderItem:(params, api) => {
        if (params.dataIndex !== 0) return null;
        const up = iterations.map((x,i)=>api.coord([x, hi[i]]));
        const dn = iterations.map((x,i)=>api.coord([x, lo[i]])).reverse();
        return {type:'polygon', shape:{points: up.concat(dn)}, style:{fill: col, opacity: 0.26}};
      }});
  });
  drawOrder.forEach(m => {
    const arr = p.lines[m];
    series.push({type:'line', name:m, xAxisIndex:pi, yAxisIndex:pi, z:2, showSymbol:false, symbol:'none',
      silent:true, animation:false,
      itemStyle:{color:methodColors[m]},
      lineStyle:{color:methodColors[m], width:1.3},
      data: iterations.map((x,i)=>[x, arr[i]])});
  });
});

const chart = echarts.init(document.getElementById('c'), null, {renderer:'canvas'});
chart.setOption({
  animation:false,
  backgroundColor:'#ffffff',
  title: titles,
  grid: grids, xAxis: xAxes, yAxis: yAxes, series: series,
  legend:{data:methods, left:52, top:362, itemWidth:20, itemHeight:10, itemGap:10, icon:'rect',
    selectedMode:false,
    formatter: n => '{t|' + n + '}',
    textStyle:{rich:{t:{width:62, align:'center', fontSize:9.5, fontWeight:'bold', color:'#111', fontFamily:'Roboto'}}}}
});
</script></body></html>
